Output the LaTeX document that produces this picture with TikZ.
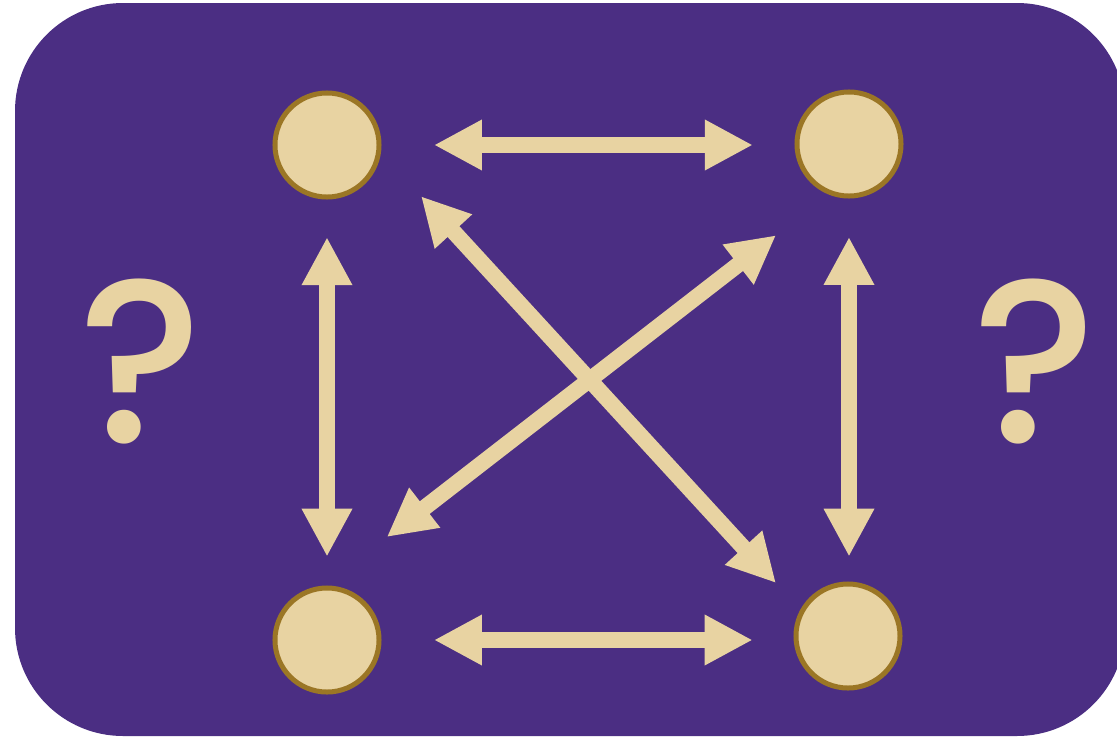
\documentclass[tikz,border=0pt]{standalone}
\usepackage{fontspec}
\setmainfont{Poppins}[BoldFont={Poppins Medium}]
\usetikzlibrary{arrows.meta}
\definecolor{uwpurple}{HTML}{4B2E83}
\definecolor{uwgold}{HTML}{E8D3A2}
\definecolor{uwbrown}{HTML}{9B7625}
\begin{document}
\begin{tikzpicture}[
  x=0.025cm,y=-0.025cm,
  dot/.style={circle, draw=uwbrown, fill=uwgold, line width=0.125cm, inner sep=0pt, minimum size=2.6cm},
  dbl/.style={{Triangle[length=1.2cm,width=1.18cm]}-{Triangle[length=1.2cm,width=1.18cm]}, draw=uwgold, fill=uwgold, line width=0.4cm},
  qmark/.style={text=uwgold, inner sep=0pt, font=\fontsize{165}{165}\selectfont\bfseries}
]
\useasboundingbox (0,0) rectangle (1117,737);
\clip (0,0) rectangle (1117,737);
\fill[uwpurple, rounded corners=2.7cm] (15,3) rectangle (1125,736);
\node[dot] (tl) at (327,145) {};
\node[dot] (tr) at (849,144) {};
\node[dot] (bl) at (327,640) {};
\node[dot] (br) at (848,636) {};
\node[qmark] (ql) at (141,362) {?};
\node[qmark] (qr) at (1035,362) {?};
% sides
\draw[dbl, shorten <=1.31cm, shorten >=1.04cm] (tl.east) -- (tl.east -| tr.west);
\draw[dbl, shorten <=1.31cm, shorten >=1.02cm] (bl.east) -- (bl.east -| br.west);
\draw[dbl, shorten <=0.94cm, shorten >=0.72cm] (tl.south) -- (tl.south |- bl.north);
\draw[dbl, shorten <=0.96cm, shorten >=0.62cm] (tr.south) -- (tr.south |- br.north);
% diagonals
\draw[dbl, shorten <=1.48cm, shorten >=0.9cm] (tl.-8) -- (br.151);
\draw[dbl, shorten <=1.66cm, shorten >=1.98cm] (tr.-112) -- (bl.93);
\end{tikzpicture}
\end{document}
